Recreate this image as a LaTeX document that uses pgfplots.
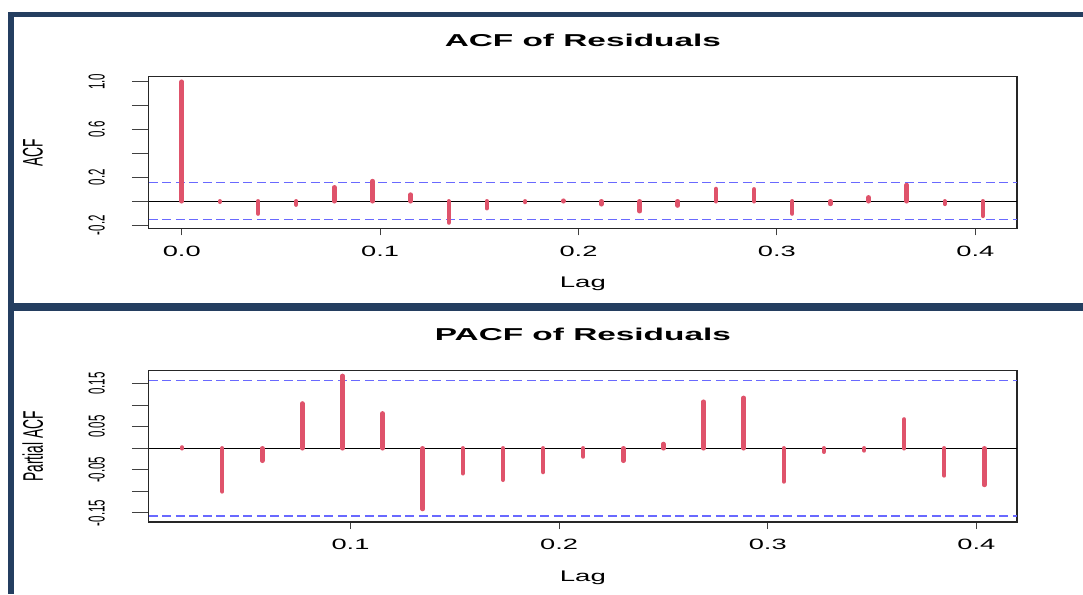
\documentclass[border=0pt]{standalone}
\usepackage{pgfplots}
\usepackage{pgfplotstable}
\pgfplotsset{compat=1.18}
\usepackage{fontspec}
\setmainfont{Liberation Sans}
\definecolor{navy}{HTML}{243E60}
\definecolor{acfred}{HTML}{DF536B}
\definecolor{ciblue}{RGB}{105,105,255}
\newcommand\sx[1]{\scalebox{1.83}[1]{#1}}
\newcommand\ry[1]{\scalebox{2.0}[1]{\rotatebox{90}{#1}}}
\newcommand\ty[1]{\scalebox{1.94}[1]{#1}}
\newcommand\lx[1]{\scalebox{1.79}[1]{#1}}
\newcommand\ly[1]{\scalebox{2.05}[1]{\rotatebox{90}{#1}}}

\pgfplotstableread{
lag acf
0.0000 1.000
0.0192 -0.004
0.0385 -0.103
0.0577 -0.028
0.0769 0.117
0.0962 0.169
0.1154 0.056
0.1346 -0.178
0.1538 -0.058
0.1731 -0.006
0.1923 0.005
0.2115 -0.025
0.2308 -0.083
0.2500 -0.036
0.2692 0.103
0.2885 0.100
0.3077 -0.103
0.3269 -0.022
0.3462 0.033
0.3654 0.136
0.3846 -0.022
0.4038 -0.122
}\acfdata

\pgfplotstableread{
lag pacf
0.0192 0.002
0.0385 -0.100
0.0577 -0.029
0.0769 0.104
0.0962 0.168
0.1154 0.081
0.1346 -0.141
0.1538 -0.058
0.1731 -0.073
0.1923 -0.055
0.2115 -0.019
0.2308 -0.029
0.2500 0.010
0.2692 0.108
0.2885 0.117
0.3077 -0.077
0.3269 -0.008
0.3462 -0.005
0.3654 0.067
0.3846 -0.063
0.4038 -0.085
}\pacfdata

\pgfplotsset{rplot/.style={
  scale only axis, width=868.2pt,
  axis line style={black!85, line width=1.1pt},
  tick align=outside, major tick length=7pt,
  tick style={black!75, line width=1pt},
  ytick style={/pgfplots/major tick length=17pt},
  xtick pos=bottom, ytick pos=left,
  xticklabel style={font=\fontsize{14.9}{16}\selectfont, anchor=center, yshift=-15.7pt},
  yticklabel style={font=\fontsize{11.5}{13}\selectfont, anchor=center, xshift=-45.1pt},
  every axis title/.style={at={(0.5,1)}, anchor=center, yshift=36pt, font=\fontsize{17.2}{19}\selectfont\bfseries},
  every axis x label/.style={at={(0.5,0)}, anchor=center, yshift=-55.5pt, font=\fontsize{15.4}{17}\selectfont},
  every axis y label/.style={at={(0,0.5)}, anchor=center, xshift=-116pt, font=\fontsize{13.8}{15}\selectfont},
  xlabel={\lx{Lag}},
}}

\begin{document}
\begin{tikzpicture}
\useasboundingbox (0pt,0pt) rectangle (1083pt,-594pt);
\fill[white] (0pt,0pt) rectangle (1083pt,-594pt);
\fill[navy] (8.3pt,-11.7pt) rectangle (1083pt,-16.7pt);
\fill[navy] (8.3pt,-11.7pt) rectangle (14pt,-594pt);
\fill[navy] (8.3pt,-303.3pt) rectangle (1083pt,-310.5pt);

\begin{axis}[rplot, at={(148.8pt,-228.3pt)}, anchor=south west,
  height=151.6pt,
  xmin=-0.0166, xmax=0.421, ymin=-0.226, ymax=1.042,
  xtick={0,0.1,0.2,0.3,0.4},
  xticklabels={\sx{0.0},\sx{0.1},\sx{0.2},\sx{0.3},\sx{0.4}},
  ytick={-0.2,0,0.2,0.4,0.6,0.8,1.0},
  yticklabels={\ry{-0.2},{},\ry{0.2},{},\ry{0.6},{},\ry{1.0}},
  title={\ty{ACF of Residuals}},
  ylabel={\ly{ACF}},
]
\addplot[ciblue, line width=1.3pt, dash pattern=on 9pt off 4.5pt] coordinates {(-0.0166,0.155) (0.421,0.155)};
\addplot[ciblue, line width=1.3pt, dash pattern=on 9pt off 4.5pt] coordinates {(-0.0166,-0.155) (0.421,-0.155)};
\addplot[black, line width=1pt] coordinates {(-0.0166,0) (0.421,0)};
\addplot[acfred, line width=4.5pt, line cap=round, ycomb, mark=none] table[x=lag, y=acf] {\acfdata};
\end{axis}

\begin{axis}[rplot, at={(148.8pt,-522pt)}, anchor=south west,
  height=151.3pt,
  xmin=0.0033, xmax=0.4195, ymin=-0.171, ymax=0.180,
  xtick={0.1,0.2,0.3,0.4},
  xticklabels={\sx{0.1},\sx{0.2},\sx{0.3},\sx{0.4}},
  ytick={-0.15,-0.1,-0.05,0,0.05,0.1,0.15},
  yticklabels={\ry{-0.15},{},\ry{-0.05},{},\ry{0.05},{},\ry{0.15}},
  title={\ty{PACF of Residuals}},
  ylabel={\ly{Partial ACF}},
]
\addplot[ciblue, line width=1.3pt, dash pattern=on 9pt off 4.5pt] coordinates {(0.0033,0.157) (0.4195,0.157)};
\addplot[ciblue, line width=1.3pt, dash pattern=on 9pt off 4.5pt] coordinates {(0.0033,-0.157) (0.4195,-0.157)};
\addplot[black, line width=1pt] coordinates {(0.0033,0) (0.4195,0)};
\addplot[acfred, line width=4.5pt, line cap=round, ycomb, mark=none] table[x=lag, y=pacf] {\pacfdata};
\end{axis}
\end{tikzpicture}
\end{document}
